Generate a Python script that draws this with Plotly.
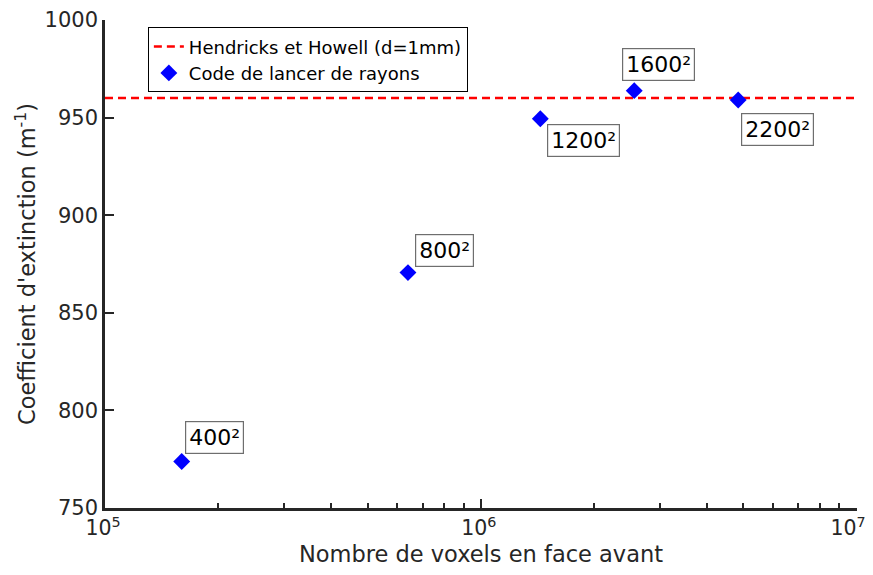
import numpy as np
import plotly.graph_objects as go

# ---- data ----
voxels = [400**2, 800**2, 1200**2, 1600**2, 2200**2]
coef = [773.8, 870.6, 949.4, 963.8, 959.0]
labels = ["400²", "800²", "1200²", "1600²", "2200²"]
ref_value = 960.0
ref_x = [1e5, 1e7]
y_ticks = [750, 800, 850, 900, 950, 1000]
x_ticks = [1e5, 1e6, 1e7]
x_ticktext = ["10<sup>5</sup>", "10<sup>6</sup>", "10<sup>7</sup>\u00a0\u00a0"]

# ---- style: label placement (pixel shifts, anchors) ----
label_style = [
    dict(xshift=3, yshift=8, yanchor="bottom"),
    dict(xshift=7, yshift=6, yanchor="bottom"),
    dict(xshift=7, yshift=-5, yanchor="top"),
    dict(xshift=-12, yshift=10, yanchor="bottom"),
    dict(xshift=3, yshift=-13, yanchor="top"),
]

FONT = "DejaVu Sans"
TXT = "#262626"

fig = go.Figure()
fig.add_trace(go.Scatter(
    x=ref_x, y=[ref_value, ref_value], mode="lines",
    line=dict(color="#ff0000", width=2.5, dash="8px,5px"),
    name="Hendricks et Howell (d=1mm)"))
fig.add_trace(go.Scatter(
    x=voxels, y=coef, mode="markers",
    marker=dict(symbol="diamond", size=13, color="#0000ff", line=dict(width=0)),
    name="Code de lancer de rayons"))

for xv, yv, lab, st in zip(voxels, coef, labels, label_style):
    fig.add_annotation(
        x=np.log10(xv), y=yv, xref="x", yref="y", text=lab, showarrow=False,
        xanchor="left", yanchor=st["yanchor"], xshift=st["xshift"], yshift=st["yshift"],
        font=dict(family=FONT, size=22, color="#000000"),
        bgcolor="white", bordercolor="#6e6e6e", borderwidth=1.2, borderpad=3)

minor_vals = [m * 10**e for e in (5, 6) for m in range(2, 10)]

# page body adds an 8px offset on every side; figure sized so the plot area
# lands at x 105..857, y 20..508 in the 873x575 window without scrolling
fig.update_layout(
    width=865, height=559,
    margin=dict(l=97, r=16, t=12, b=59, autoexpand=False),
    plot_bgcolor="white", paper_bgcolor="white",
    font=dict(family=FONT, color=TXT),
    showlegend=True,
    legend=dict(x=0.057, y=0.985, xanchor="left", yanchor="top",
                bgcolor="white", bordercolor="#000000", borderwidth=1,
                font=dict(family=FONT, size=18, color="#000000"),
                tracegroupgap=0, itemwidth=30),
    xaxis=dict(type="log", range=[5, 7.001], tickvals=x_ticks, ticktext=x_ticktext,
               automargin=False, ticklabeloverflow="allow", ticklabelshift=-2,
               ticks="inside", ticklen=9, tickwidth=2, tickcolor=TXT,
               showline=True, linecolor=TXT, linewidth=2.5, mirror=False,
               showgrid=False, zeroline=False,
               tickfont=dict(family=FONT, size=20.5, color=TXT),
               minor=dict(tickvals=minor_vals, ticks="inside", ticklen=5,
                          tickwidth=1.5, tickcolor=TXT, showgrid=False),
               title=dict(text="Nombre de voxels en face avant",
                          font=dict(family=FONT, size=22.5, color=TXT), standoff=9)),
    yaxis=dict(range=[750, 1000], tickvals=y_ticks, automargin=False,
               ticks="inside", ticklen=9, tickwidth=2, tickcolor=TXT,
               showline=True, linecolor=TXT, linewidth=2.5, mirror=False,
               showgrid=False, zeroline=False,
               tickfont=dict(family=FONT, size=21, color=TXT),
               title=dict(text="Coefficient d'extinction (m<sup>-1</sup>)",
                          font=dict(family=FONT, size=22.5, color=TXT), standoff=3)),
)

fig.write_html("out.html")
